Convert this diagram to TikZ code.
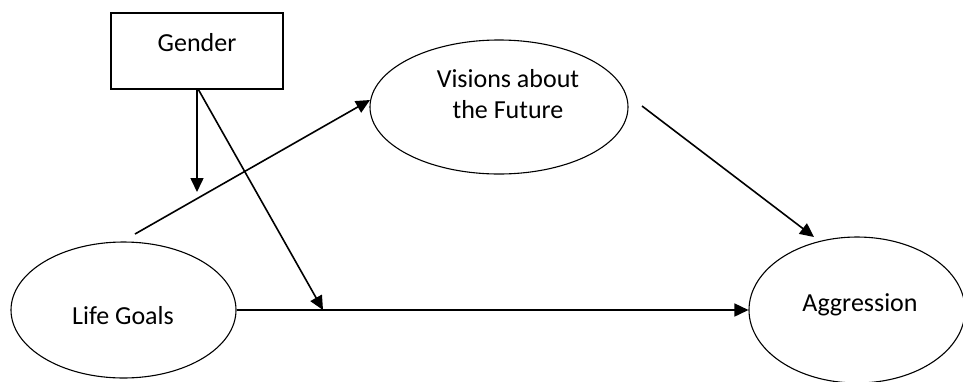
\documentclass[tikz,border=0pt]{standalone}
\usepackage{fontspec}
\setmainfont{Carlito}
\usetikzlibrary{shapes.geometric,arrows.meta}
\begin{document}
\begin{tikzpicture}[x=1pt,y=-1pt,
  lbl/.style={inner sep=0pt,font=\fontsize{26}{31}\selectfont},
  oval/.style={draw,ellipse,line width=1.1pt,inner sep=0pt},
  varbox/.style={draw,rectangle,line width=1.5pt,inner sep=0pt},
  path/.style={line width=1.6pt,-{Triangle[length=14pt,width=13pt]}},
  plain/.style={line width=1.6pt}]
\useasboundingbox (0,0) rectangle (963,381);
\clip (0,0) rectangle (963,381);
% moderator box
\node[varbox,minimum width=172pt,minimum height=76pt] (g) at (197,51) {};
\node[lbl,anchor=base] at (197,51) {Gender};
% latent variables
\node[oval,minimum width=225pt,minimum height=136pt] (lg) at (123.5,310) {};
\node[lbl,anchor=base] at (123,324) {Life Goals};
\node[oval,minimum width=258pt,minimum height=134pt] (vis) at (499,107) {};
\node[lbl,anchor=base] at (508,87) {Visions about};
\node[lbl,anchor=base] at (508,118) {the Future};
\node[oval,minimum width=216pt,minimum height=146pt] (ag) at (857,310) {};
\node[lbl,anchor=base] at (860,311) {Aggression};
% free ends of the connectors
\coordinate (a1) at (197,192);
\coordinate (j) at (323,310);
\coordinate (s1) at (135,234);
\coordinate (t1) at (370,100);
\coordinate (s2) at (642,106);
\coordinate (t2) at (814,237);
% paths
\draw[path] (g.south) -- (a1);
\draw[path] ([xshift=1.5pt]g.south) -- (j);
\draw[path] (lg.east) -- (ag.west);
\draw[path] (s1) -- (t1);
\draw[path] (s2) -- (t2);
\end{tikzpicture}
\end{document}
